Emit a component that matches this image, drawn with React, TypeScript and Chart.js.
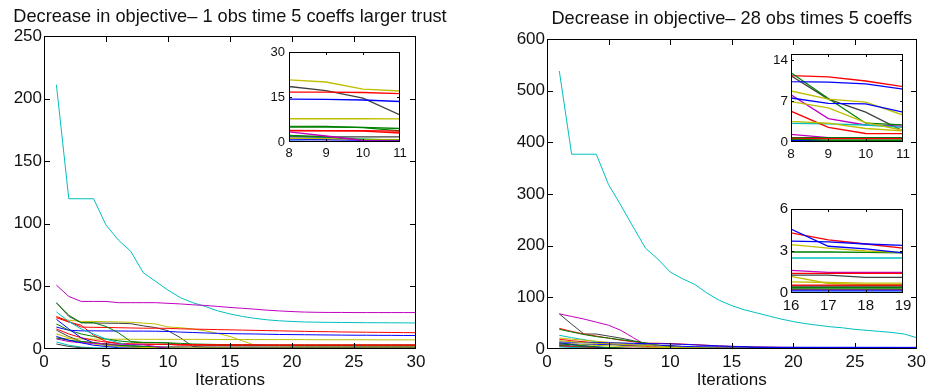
import { useEffect, useRef, useState } from "react";
import { Chart, registerables } from "chart.js";

Chart.register(...registerables);

// ---------- data ----------
const ITERATIONS = [1, 2, 3, 4, 5, 6, 7, 8, 9, 10, 11, 12, 13, 14, 15, 16, 17, 18, 19, 20, 21, 22, 23, 24, 25, 26, 27, 28, 29, 30];

// Left panel: 1 obs time, 5 coeffs, larger trust region
const L_cyanA = [211, 120, 120, 120, 99, 87, 78, 61, 54, 47, 41, 37, 34, 30.5, 28, 26, 24.5, 23.3, 22.5, 22, 21.6, 21.4, 21.3, 21.2, 21.1, 21, 21, 20.9, 20.9, 20.8];
const L_magA = [51, 42, 38, 38, 38, 37, 37, 37, 37, 36.5, 36, 35.3, 34.8, 34, 33.2, 32.5, 31.8, 31, 30.4, 29.9, 29.5, 29.3, 29.2, 29.2, 29.1, 29.1, 29.1, 29.1, 29.1, 29.1];
const L_yelA = [25, 23, 22, 22, 21.8, 21.6, 21.3, 20.7, 20, 17.6, 17, 16, 14.5, 12.5, 10, 6.5, 3, 2.6, 2.5, 2.5, 2.4, 2.4, 2.4, 2.4, 2.3, 2.3, 2.3, 2.3, 2.3, 2.3];
const L_grayA = [37, 26, 21, 20.8, 20.6, 20.5, 20.2, 18.5, 17.1, 14.6, 9, 2, 1.3, 1.2, 1.2, 1.2, 1.2, 1.2, 1.2, 1.2, 1.2, 1.2, 1.2, 1.2, 1.2, 1.2, 1.2, 1.2, 1.2, 1.2];
const L_redA = [26, 22, 17.5, 17.3, 17.2, 17, 16.8, 16.6, 16.6, 16.5, 16.1, 15.9, 15.7, 15.5, 15.3, 15.1, 14.9, 14.7, 14.5, 14.3, 14.1, 13.9, 13.8, 13.6, 13.5, 13.4, 13.3, 13.2, 13.1, 13];
const L_blueA = [17.5, 15, 14.5, 14.5, 14.4, 14.4, 14.3, 14.3, 14.2, 14, 13.5, 13.2, 12.8, 12.5, 12.3, 12.1, 12, 11.8, 11.6, 11.5, 11.4, 11.3, 11.2, 11.1, 11, 11, 10.9, 10.9, 10.8, 10.8];
const L_yelB = [8.5, 8.2, 8, 7.9, 7.8, 7.8, 7.8, 7.75, 7.75, 7.75, 7.7, 7.7, 7.7, 7.6, 7.6, 7.6, 7.6, 7.5, 7.5, 7.5, 7.5, 7.4, 7.4, 7.4, 7.4, 7.4, 7.3, 7.3, 7.3, 7.3];
const L_greenA = [36.8, 27, 21, 21, 18, 13, 6, 5.3, 5.2, 4.8, 3.7, 3.3, 3, 2.9, 2.8, 2.8, 2.7, 2.7, 2.7, 2.6, 2.6, 2.6, 2.6, 2.6, 2.6, 2.6, 2.6, 2.6, 2.6, 2.6];
const L_redB = [25, 21.5, 19, 11, 6, 4.5, 4, 3.7, 3.7, 3.6, 3, 3, 3, 3, 3, 3, 3, 3, 3, 3, 3, 3, 3, 3, 3, 3, 3, 3, 3, 3];
const L_cyanB = [29.6, 22, 16, 12, 8, 5, 3, 2, 1.5, 1, 0.5, 0.3, 0.2, 0.2, 0.2, 0.2, 0.2, 0.2, 0.2, 0.2, 0.2, 0.2, 0.2, 0.2, 0.2, 0.2, 0.2, 0.2, 0.2, 0.2];
const L_blueB = [23.7, 16, 9, 5, 3, 2, 1.5, 1, 0.8, 0.6, 0.6, 0.5, 0.5, 0.5, 0.5, 0.5, 0.5, 0.5, 0.5, 0.5, 0.5, 0.5, 0.5, 0.5, 0.5, 0.5, 0.5, 0.5, 0.5, 0.5];
const L_grayB = [15, 10, 6, 5, 4, 3, 2.2, 1.7, 1.7, 1.7, 1.7, 1.6, 1.6, 1.6, 1.6, 1.6, 1.6, 1.5, 1.5, 1.5, 1.5, 1.5, 1.5, 1.5, 1.5, 1.5, 1.5, 1.5, 1.5, 1.5];
const L_greenB = [8.8, 7, 6, 5, 4, 3, 2.5, 2.2, 1.8, 0.6, 0.5, 0.4, 0.4, 0.4, 0.4, 0.4, 0.4, 0.4, 0.4, 0.4, 0.4, 0.4, 0.4, 0.4, 0.4, 0.4, 0.4, 0.4, 0.4, 0.4];
const L_magB = [8, 6, 5, 4.5, 4, 3.8, 3.6, 3.4, 2, 0.5, 0.4, 0.3, 0.3, 0.3, 0.3, 0.3, 0.3, 0.3, 0.3, 0.3, 0.3, 0.3, 0.3, 0.3, 0.3, 0.3, 0.3, 0.3, 0.3, 0.3];
const L_cyanC = [5.6, 3, 1.5, 1, 0.8, 0.5, 0.3, 0.2, 0.1, 0.1, 0.1, 0.1, 0.1, 0.1, 0.1, 0.1, 0.1, 0.1, 0.1, 0.1, 0.1, 0.1, 0.1, 0.1, 0.1, 0.1, 0.1, 0.1, 0.1, 0.1];
const L_yelC = [12, 9, 6, 4, 3, 2, 1.5, 1.2, 1.1, 0.9, 0.8, 0.8, 0.8, 0.8, 0.8, 0.7, 0.7, 0.7, 0.7, 0.7, 0.7, 0.7, 0.7, 0.7, 0.7, 0.7, 0.7, 0.7, 0.7, 0.7];
const L_blueC = [10, 7, 5, 3, 2, 1, 0.5, 0.3, 0.2, 0.2, 0.2, 0.2, 0.2, 0.2, 0.2, 0.2, 0.2, 0.2, 0.2, 0.2, 0.2, 0.2, 0.2, 0.2, 0.2, 0.2, 0.2, 0.2, 0.2, 0.2];
const L_greenC = [20, 15, 12, 10, 8, 6.5, 5.5, 5, 5, 4.9, 4.5, 4, 3.8, 3.6, 3.5, 3.4, 3.3, 3.3, 3.2, 3.2, 3.2, 3.2, 3.2, 3.2, 3.2, 3.2, 3.2, 3.2, 3.2, 3.2];
const L_redC = [16, 12, 9, 7, 5.5, 4.5, 4, 3.9, 3.8, 3.8, 3.6, 3.5, 3.5, 3.4, 3.4, 3.4, 3.4, 3.3, 3.3, 3.3, 3.3, 3.3, 3.3, 3.3, 3.3, 3.3, 3.3, 3.3, 3.3, 3.3];
const L_grayC = [4, 2, 1, 0.5, 0.3, 0.2, 0.1, 0.1, 0.1, 0.1, 0.1, 0.1, 0.1, 0.1, 0.1, 0.1, 0.1, 0.1, 0.1, 0.1, 0.1, 0.1, 0.1, 0.1, 0.1, 0.1, 0.1, 0.1, 0.1, 0.1];

// Right panel: 28 obs times, 5 coeffs
const R_cyanA = [538, 377, 377, 377, 318, 278, 236, 195, 174, 149, 136, 125, 108, 94, 84, 76, 70, 64, 58, 53, 49, 46, 43, 41, 38, 36, 34, 32, 29, 22];
const R_magA = [68, 63, 58, 52, 46, 36, 22, 8.05, 4, 2.9, 2.7, 2.4, 2.1, 1.9, 1.75, 1.62, 1.48, 1.48, 1.48, 1.46, 1.45, 1.45, 1.44, 1.44, 1.43, 1.43, 1.42, 1.42, 1.42, 1.42];
const R_grayA = [68, 48, 29, 29, 25, 21, 16, 11.3, 7.3, 5.1, 1.9, 1.6, 1.5, 1.4, 1.3, 1.28, 1.28, 1.11, 1.11, 1.1, 1.1, 1.08, 1.08, 1.06, 1.06, 1.05, 1.05, 1.05, 1.05, 1.05];
const R_redA = [40, 34, 29, 25, 21, 17, 14, 11.3, 11.1, 10.4, 9.45, 8.3, 7.2, 6, 5, 4.3, 3.8, 3.5, 3.2, 3, 2.9, 2.8, 2.8, 2.7, 2.7, 2.6, 2.6, 2.5, 2.5, 2.5];
const R_greenA = [38, 33, 28, 24, 21, 18, 15, 11.8, 7.4, 3.2, 2.93, 2.93, 2.93, 2.93, 2.93, 2.93, 2.93, 2.9, 2.86, 2.85, 2.84, 2.83, 2.82, 2.81, 2.8, 2.8, 2.8, 2.8, 2.8, 2.8];
const R_cyanB = [26.5, 22, 18, 14, 10, 7, 5, 3.2, 3.1, 2.9, 2.5, 2.5, 2.5, 2.5, 2.5, 2.5, 2.5, 2.5, 2.5, 2.5, 2.5, 2.5, 2.5, 2.5, 2.5, 2.5, 2.5, 2.5, 2.5, 2.5];
const R_yelA = [21.4, 19, 17, 15, 13, 11.5, 10, 8.7, 7.3, 6.8, 4.6, 4.2, 3.9, 3.7, 3.55, 3.46, 3.2, 3, 2.9, 2.85, 2.8, 2.8, 2.75, 2.75, 2.7, 2.7, 2.7, 2.7, 2.7, 2.7];
const R_redB = [18.8, 16, 14, 12, 10, 8, 6.5, 5.25, 2.5, 1.45, 1.42, 1.42, 1.41, 1.41, 1.4, 1.4, 1.4, 1.4, 1.4, 1.4, 1.4, 1.4, 1.4, 1.4, 1.4, 1.4, 1.4, 1.4, 1.4, 1.4];
const R_blueA = [13.6, 13, 12.7, 12.4, 12, 11.5, 11, 10.3, 10.2, 9.9, 9, 8, 7, 6, 5.2, 4.57, 3.34, 3.15, 2.86, 2.8, 2.78, 2.76, 2.74, 2.72, 2.7, 2.68, 2.66, 2.64, 2.62, 2.6];
const R_blueB = [9.7, 9.5, 9.2, 9, 8.5, 8, 7.8, 7.5, 6.6, 6.5, 5.1, 4.5, 4.2, 4, 3.8, 3.7, 3.65, 3.5, 3.4, 3.38, 3.36, 3.34, 3.32, 3.3, 3.28, 3.26, 3.24, 3.22, 3.2, 3.2];
const R_yelB = [16, 14, 12, 11, 10, 9, 8, 6.9, 5.8, 3.3, 2, 1.8, 1.6, 1.45, 1.3, 1.19, 0.68, 0.6, 0.6, 0.58, 0.57, 0.56, 0.56, 0.55, 0.55, 0.55, 0.55, 0.55, 0.55, 0.55];
const R_yelC = [12, 10, 8, 7, 6, 5, 4.2, 3.5, 3.2, 2.3, 1.9, 1.5, 1.2, 1, 0.9, 0.8, 0.75, 0.7, 0.7, 0.7, 0.68, 0.68, 0.66, 0.66, 0.65, 0.65, 0.65, 0.65, 0.65, 0.65];
const R_magB = [8, 6, 4.5, 3.5, 2.5, 2, 1.6, 1.3, 0.75, 0.7, 0.65, 0.6, 0.5, 0.4, 0.3, 0.25, 0.24, 0.24, 0.24, 0.24, 0.24, 0.24, 0.24, 0.24, 0.24, 0.24, 0.24, 0.24, 0.24, 0.24];
const R_greenB = [7, 5, 3.5, 2.5, 1.5, 1, 0.8, 0.75, 0.75, 0.75, 0.75, 0.7, 0.6, 0.5, 0.45, 0.4, 0.4, 0.4, 0.4, 0.4, 0.4, 0.4, 0.4, 0.4, 0.4, 0.4, 0.4, 0.4, 0.4, 0.4];
const R_grayB = [5, 4, 3, 2, 1.5, 1, 0.8, 0.6, 0.6, 0.6, 0.6, 0.6, 0.55, 0.55, 0.5, 0.5, 0.5, 0.5, 0.5, 0.5, 0.5, 0.5, 0.5, 0.5, 0.5, 0.5, 0.5, 0.5, 0.5, 0.5];
const R_redC = [6, 4, 3, 2, 1.5, 1, 0.7, 0.6, 0.58, 0.57, 0.56, 0.56, 0.56, 0.56, 0.56, 0.56, 0.56, 0.56, 0.56, 0.56, 0.56, 0.56, 0.56, 0.56, 0.56, 0.56, 0.56, 0.56, 0.56, 0.56];
const R_blueC = [12, 9, 6, 4, 2, 1, 0.5, 0.3, 0.2, 0.15, 0.15, 0.15, 0.15, 0.15, 0.15, 0.15, 0.15, 0.15, 0.15, 0.15, 0.15, 0.15, 0.15, 0.15, 0.15, 0.15, 0.15, 0.15, 0.15, 0.15];
const R_cyanC = [4, 3, 2, 1, 0.5, 0.3, 0.1, 0.05, 0.05, 0.05, 0.05, 0.05, 0.05, 0.05, 0.05, 0.05, 0.05, 0.05, 0.05, 0.05, 0.05, 0.05, 0.05, 0.05, 0.05, 0.05, 0.05, 0.05, 0.05, 0.05];
const R_greenC = [10, 8, 6, 4, 3, 2, 1, 0.5, 0.3, 0.3, 0.3, 0.3, 0.3, 0.3, 0.3, 0.3, 0.3, 0.3, 0.3, 0.3, 0.3, 0.3, 0.3, 0.3, 0.3, 0.3, 0.3, 0.3, 0.3, 0.3];

// Axis ticks
const MAIN_X_TICKS = [0, 5, 10, 15, 20, 25, 30];
const LEFT_Y_TICKS = [0, 50, 100, 150, 200, 250];
const RIGHT_Y_TICKS = [0, 100, 200, 300, 400, 500, 600];
const LEFT_INSET_X_TICKS = [8, 9, 10, 11];
const LEFT_INSET_Y_TICKS = [0, 15, 30];
const RIGHT_INSET_A_X_TICKS = [8, 9, 10, 11];
const RIGHT_INSET_A_Y_TICKS = [0, 7, 14];
const RIGHT_INSET_B_X_TICKS = [16, 17, 18, 19];
const RIGHT_INSET_B_Y_TICKS = [0, 3, 6];

const LEFT_TITLE = "Decrease in objective\u2013 1 obs time 5 coeffs larger trust";
const RIGHT_TITLE = "Decrease in objective\u2013 28 obs times 5 coeffs";
const X_LABEL = "Iterations";

// ---------- styling ----------
const C = {
  b: "#0000ff",
  g: "#008000",
  r: "#ff0000",
  c: "#00bfbf",
  m: "#bf00bf",
  y: "#bfbf00",
  k: "#404040",
};
const FAMILY = "'Liberation Sans', Arial, Helvetica, sans-serif";

const LEFT_SERIES: [number[], string][] = [
  [L_grayC, C.k], [L_cyanC, C.c], [L_blueC, C.b], [L_magB, C.m], [L_greenB, C.g],
  [L_yelC, C.y], [L_grayB, C.k], [L_blueB, C.b], [L_cyanB, C.c], [L_redC, C.r],
  [L_redB, C.r], [L_greenC, C.g], [L_greenA, C.g], [L_yelB, C.y], [L_blueA, C.b],
  [L_redA, C.r], [L_grayA, C.k], [L_yelA, C.y], [L_magA, C.m], [L_cyanA, C.c],
];

const RIGHT_SERIES: [number[], string][] = [
  [R_cyanC, C.c], [R_greenC, C.g], [R_blueC, C.b], [R_redC, C.r], [R_grayB, C.k],
  [R_greenB, C.g], [R_magB, C.m], [R_yelC, C.y], [R_yelB, C.y], [R_blueB, C.b],
  [R_blueA, C.b], [R_redB, C.r], [R_yelA, C.y], [R_cyanB, C.c], [R_greenA, C.g],
  [R_redA, C.r], [R_grayA, C.k], [R_magA, C.m], [R_cyanA, C.c],
];

function makeDatasets(series: [number[], string][], width: number) {
  return series.map(([vals, color]) => ({
    data: vals.map((v, i) => ({ x: ITERATIONS[i], y: v })),
    borderColor: color,
    backgroundColor: color,
    borderWidth: width,
    pointRadius: 0,
    fill: false,
    tension: 0,
  }));
}

type PanelSpec = {
  id: string;
  left: number;
  top: number;
  width: number;
  height: number;
  series: [number[], string][];
  lineWidth: number;
  xMin: number;
  xMax: number;
  yMin: number;
  yMax: number;
  xTicks: number[];
  yTicks: number[];
  yAxisWidth: number;
  xAxisHeight: number;
  padRight: number;
  padTop: number;
  fontSize: number;
  tickPadX: number;
  tickPadY: number;
  tickLength: number;
  white?: boolean;
  title?: string;
  titleY?: number;
  xLabel?: string;
};

type Seg = { x: number; y: number; w: number; h: number };

// Axes box with inward tick marks on all four sides, as 1px segments in canvas pixels,
// taken from the chart's own plot area and scales.
function frameSegments(c: any, s: PanelSpec): Seg[] {
  const { chartArea: a, scales } = c;
  const L = Math.round(a.left);
  const R = Math.round(a.right) - 1;
  const T = Math.round(a.top);
  const B = Math.round(a.bottom) - 1;
  const len = Math.round(s.tickLength);
  const segs: Seg[] = [
    { x: L, y: T, w: R - L + 1, h: 1 },
    { x: L, y: B, w: R - L + 1, h: 1 },
    { x: L, y: T, w: 1, h: B - T + 1 },
    { x: R, y: T, w: 1, h: B - T + 1 },
  ];
  s.xTicks.forEach((v) => {
    const p = Math.round(scales.x.getPixelForValue(v));
    if (p <= L + 1 || p >= R - 1) return;
    segs.push({ x: p, y: B - len, w: 1, h: len });
    segs.push({ x: p, y: T + 1, w: 1, h: len });
  });
  s.yTicks.forEach((v) => {
    const p = Math.round(scales.y.getPixelForValue(v));
    if (p <= T + 1 || p >= B - 1) return;
    segs.push({ x: L + 1, y: p, w: len, h: 1 });
    segs.push({ x: R - len, y: p, w: len, h: 1 });
  });
  return segs;
}

function Panel({ spec }: { spec: PanelSpec }) {
  const ref = useRef<HTMLCanvasElement>(null);
  const [segs, setSegs] = useState<Seg[]>([]);
  useEffect(() => {
    const s = spec;
    const font = { family: FAMILY, size: s.fontSize };
    const chart = new Chart(ref.current as HTMLCanvasElement, {
      type: "line",
      data: { datasets: makeDatasets(s.series, s.lineWidth) as any },
      plugins: [
        {
          id: "panelFrame" + s.id,
          beforeDatasetsDraw(c: any) {
            if (!s.white) return;
            const { ctx, chartArea: a } = c;
            ctx.save();
            ctx.fillStyle = "#ffffff";
            ctx.fillRect(a.left, a.top, a.right - a.left, a.bottom - a.top);
            ctx.restore();
          },
          afterRender(c: any) {
            const { ctx, chartArea: a } = c;
            ctx.save();
            ctx.fillStyle = "#000000";
            frameSegments(c, s).forEach((g) => ctx.fillRect(g.x, g.y, g.w, g.h));
            if (s.title) {
              ctx.fillStyle = "#111111";
              ctx.font = `18.2px ${FAMILY}`;
              ctx.textAlign = "center";
              ctx.textBaseline = "alphabetic";
              ctx.fillText(s.title, (a.left + a.right) / 2, s.titleY);
            }
            ctx.restore();
          },
        },
      ],
      options: {
        animation: false,
        responsive: false,
        devicePixelRatio: 1,
        parsing: false as any,
        layout: { padding: { left: 0, right: s.padRight, top: s.padTop, bottom: 0 } },
        plugins: {
          legend: { display: false },
          tooltip: { enabled: false },
        },
        scales: {
          x: {
            type: "linear",
            min: s.xMin,
            max: s.xMax,
            grid: { display: false, drawTicks: false },
            border: { display: false },
            ticks: { font, color: "#111", padding: s.tickPadX, maxRotation: 0, autoSkip: false },
            title: s.xLabel
              ? { display: true, text: s.xLabel, font: { family: FAMILY, size: 17 }, color: "#111", padding: { top: 0, bottom: 1 } }
              : { display: false },
            afterBuildTicks: (sc: any) => {
              sc.ticks = s.xTicks.map((v) => ({ value: v }));
            },
            afterFit: (sc: any) => {
              sc.height = s.xAxisHeight;
            },
          },
          y: {
            type: "linear",
            min: s.yMin,
            max: s.yMax,
            grid: { display: false, drawTicks: false },
            border: { display: false },
            ticks: { font, color: "#111", padding: s.tickPadY },
            afterBuildTicks: (sc: any) => {
              sc.ticks = s.yTicks.map((v) => ({ value: v }));
            },
            afterFit: (sc: any) => {
              sc.width = s.yAxisWidth;
            },
          },
        },
      } as any,
    });
    // the same box is also laid over the canvas as page elements
    setSegs(frameSegments(chart, s));
    return () => chart.destroy();
  }, [spec]);
  return (
    <>
      <canvas
        ref={ref}
        width={spec.width}
        height={spec.height}
        style={{ position: "absolute", left: spec.left, top: spec.top, width: spec.width, height: spec.height }}
      />
      {segs.map((g, i) => (
        <div
          key={i}
          style={{
            position: "absolute",
            left: spec.left + g.x,
            top: spec.top + g.y,
            width: g.w,
            height: g.h,
            background: "#000000",
            pointerEvents: "none",
          }}
        />
      ))}
    </>
  );
}

const LEFT_MAIN: PanelSpec = {
  id: "L", left: 0, top: 0, width: 465, height: 392,
  series: LEFT_SERIES, lineWidth: 1,
  xMin: 0, xMax: 30, yMin: 0, yMax: 250,
  xTicks: MAIN_X_TICKS, yTicks: LEFT_Y_TICKS,
  yAxisWidth: 44, xAxisHeight: 43, padRight: 49, padTop: 36,
  fontSize: 17, tickPadX: 3, tickPadY: 2, tickLength: 5,
  title: LEFT_TITLE, titleY: 22, xLabel: X_LABEL,
};

const RIGHT_MAIN: PanelSpec = {
  id: "R", left: 465, top: 0, width: 464, height: 392,
  series: RIGHT_SERIES, lineWidth: 1,
  xMin: 0, xMax: 30, yMin: 0, yMax: 600,
  xTicks: MAIN_X_TICKS, yTicks: RIGHT_Y_TICKS,
  yAxisWidth: 82, xAxisHeight: 43, padRight: 10, padTop: 39,
  fontSize: 17, tickPadX: 3, tickPadY: 2, tickLength: 5,
  title: RIGHT_TITLE, titleY: 24, xLabel: X_LABEL,
};

const LEFT_INSET: PanelSpec = {
  id: "LI", left: 245, top: 40, width: 170, height: 125,
  series: LEFT_SERIES, lineWidth: 1.3,
  xMin: 8, xMax: 11, yMin: 0, yMax: 30,
  xTicks: LEFT_INSET_X_TICKS, yTicks: LEFT_INSET_Y_TICKS,
  yAxisWidth: 44, xAxisHeight: 23, padRight: 15, padTop: 12,
  fontSize: 13, tickPadX: 4, tickPadY: 4, tickLength: 2,
  white: true,
};

const RIGHT_INSET_A: PanelSpec = {
  id: "RA", left: 750, top: 40, width: 170, height: 125,
  series: RIGHT_SERIES, lineWidth: 1.3,
  xMin: 8, xMax: 11, yMin: 0, yMax: 15,
  xTicks: RIGHT_INSET_A_X_TICKS, yTicks: RIGHT_INSET_A_Y_TICKS,
  yAxisWidth: 41, xAxisHeight: 23, padRight: 17, padTop: 14,
  fontSize: 13.5, tickPadX: 4, tickPadY: 3, tickLength: 2,
  white: true,
};

const RIGHT_INSET_B: PanelSpec = {
  id: "RB", left: 750, top: 195, width: 170, height: 125,
  series: RIGHT_SERIES, lineWidth: 1.3,
  xMin: 16, xMax: 19, yMin: 0, yMax: 6,
  xTicks: RIGHT_INSET_B_X_TICKS, yTicks: RIGHT_INSET_B_Y_TICKS,
  yAxisWidth: 41, xAxisHeight: 27, padRight: 17, padTop: 14,
  fontSize: 15, tickPadX: 4, tickPadY: 3, tickLength: 2,
  white: true,
};

export default function App() {
  return (
    <div style={{ position: "absolute", left: 0, top: 0, width: 929, height: 392, background: "#fff", overflow: "hidden" }}>
      <Panel spec={LEFT_MAIN} />
      <Panel spec={RIGHT_MAIN} />
      <Panel spec={LEFT_INSET} />
      <Panel spec={RIGHT_INSET_A} />
      <Panel spec={RIGHT_INSET_B} />
    </div>
  );
}
